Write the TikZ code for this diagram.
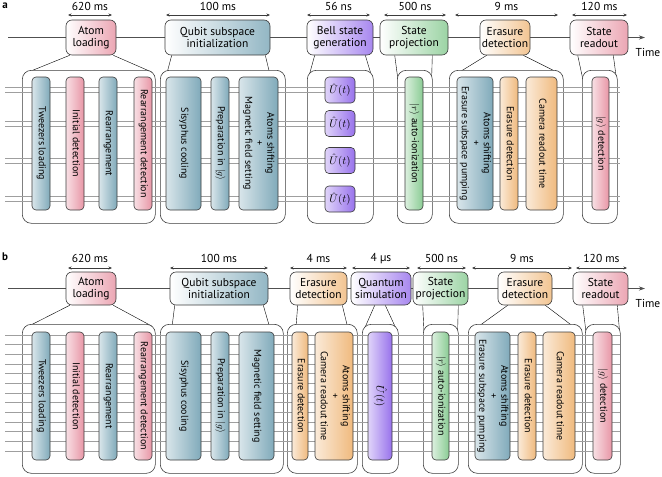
\documentclass[tikz,border=0pt]{standalone}
\usepackage{fontspec}
\setmainfont{PT Sans}
\usepackage{amsmath}
\usepackage{graphicx}
\usetikzlibrary{arrows.meta,backgrounds}

\definecolor{qblue}{RGB}{128,170,186}
\definecolor{qpink}{RGB}{232,150,166}
\definecolor{qpurple}{RGB}{152,114,236}
\definecolor{qgreen}{RGB}{138,204,148}
\definecolor{qorange}{RGB}{240,186,126}
\definecolor{edge}{RGB}{60,60,60}

\newcommand{\vtext}[1]{\rotatebox{-90}{\begin{tabular}{@{}c@{}}#1\end{tabular}}}

\tikzset{
  stage/.style={draw=edge, line width=0.6pt, rounded corners=6pt, align=center,
    inner sep=1pt, left color=white, right color=#1!85,
    font=\fontsize{11.5}{12.5}\selectfont},
  group/.style={draw=edge, line width=0.6pt, rounded corners=9pt, fill=white,
    anchor=north west, inner sep=0pt},
  sub/.style={draw=edge, line width=0.6pt, rounded corners=4pt, inner sep=0pt,
    left color=#1!30!white, right color=#1, font=\fontsize{10}{11}\selectfont},
  hA/.style={minimum height=133},
  hB/.style={minimum height=128},
  wire/.style={draw=gray!75, line width=0.45pt},
  tline/.style={-{Stealth[length=6pt,width=4pt]}, draw=edge!90, line width=0.8pt},
  dur/.style={{Stealth[length=3.5pt,width=3pt]}-{Stealth[length=3.5pt,width=3pt]},
    draw=edge, line width=0.6pt},
}

\begin{document}
\begin{tikzpicture}[x=1pt, y=-1pt, font=\fontsize{11.5}{13}\selectfont]
  \useasboundingbox (0,0) rectangle (662,477);

  % ---- a ----
  \node[font=\bfseries\fontsize{11}{13}\selectfont] at (5,5.5) (lblA) {a};
  \coordinate (tA0) at (8,37.5);
  \coordinate (tA1) at (645,37.5);
  \node at (648,52) (timeA) {Time};
  \foreach \xa/\xb/\lbl in {68/112/620 ms, 166/270/100 ms, 307/370/56 ns,
      384/446/500 ns, 455/558/9 ms, 572/627/120 ms}{
    \draw[dur] (\xa,15) -- (\xb,15);
    \node at ({(\xa+\xb)/2},6.5) (dA\xa) {\lbl};
  }

  \node[stage=qpink, minimum width=50, minimum height=35] at (91,37.5) (alA) {Atom\\loading};
  \node[stage=qblue, minimum width=105, minimum height=35] at (217.5,37.5) (qsA) {Qubit subspace\\initialization};
  \node[stage=qpurple, minimum width=66, minimum height=35] at (340,37.5) (bsA) {Bell state\\generation};
  \node[stage=qgreen, minimum width=68, minimum height=35] at (414,37.5) (spA) {State\\projection};
  \node[stage=qorange, minimum width=50, minimum height=35] at (505,37.5) (edA) {Erasure\\detection};
  \node[stage=qpink, minimum width=58, minimum height=35] at (599,37.5) (srA) {State\\readout};

  \node[group, minimum width=133, minimum height=153] at (22,70) (g1A) {};
  \node[group, minimum width=125, minimum height=153] at (160,70) (g2A) {};
  \node[group, minimum width=66, minimum height=153] at (307,70) (g3A) {};
  \node[group, minimum width=35, minimum height=153] at (397,70) (g4A) {};
  \node[group, minimum width=114, minimum height=153] at (449,70) (g5A) {};
  \node[group, minimum width=35, minimum height=153] at (582,70) (g6A) {};

  \begin{scope}[on background layer]
    \draw[tline] (tA0) -- (tA1);
    \draw ([xshift=4]alA.south west) -- ([xshift=4,yshift=-3]g1A.north west);
    \draw ([xshift=-3]alA.south east) -- ([xshift=-4,yshift=-2]g1A.north east);
    \draw ([xshift=7]qsA.south west) -- ([xshift=7,yshift=-3]g2A.north west);
    \draw ([xshift=-5]qsA.south east) -- ([xshift=-16,yshift=-3]g2A.north east);
    \draw ([xshift=8]bsA.south west) -- ([xshift=2,yshift=-6]g3A.north west);
    \draw ([xshift=-8]bsA.south east) -- ([xshift=-2,yshift=-6]g3A.north east);
    \draw ([xshift=15]spA.south west) -- ([xshift=1,yshift=-10]g4A.north west);
    \draw ([xshift=-16]spA.south east) -- ([xshift=-1,yshift=-10]g4A.north east);
    \draw ([xshift=7]edA.south west) -- ([xshift=9,yshift=-3]g5A.north west);
    \draw ([xshift=-7]edA.south east) -- ([xshift=-5,yshift=-3]g5A.north east);
    \draw ([xshift=8]srA.south west) -- ([xshift=1,yshift=-10]g6A.north west);
    \draw ([xshift=-15]srA.south east) -- ([xshift=-1,yshift=-10]g6A.north east);
  \end{scope}

  \foreach \c in {90,123.5,160.5,199}{
    \draw[wire] (5,{\c-2.3}) -- (620,{\c-2.3});
    \draw[wire] (5,{\c+2.3}) -- (620,{\c+2.3});
  }

  \node[sub=qblue, hA, minimum width=18] at (41,143.5) (twA) {\vtext{Tweezers loading}};
  \node[sub=qpink, hA, minimum width=18] at (75,143.5) (idA) {\vtext{Initial detection}};
  \node[sub=qblue, hA, minimum width=18] at (108,143.5) (reA) {\vtext{Rearrangement}};
  \node[sub=qpink, hA, minimum width=18] at (143,143.5) (rdA) {\vtext{Rearrangement detection}};
  \node[sub=qblue, hA, minimum width=35] at (183.5,143.5) (syA) {\vtext{Sisyphus cooling}};
  \node[sub=qblue, hA, minimum width=18] at (220,143.5) (pgA) {\vtext{Preparation in $|g\rangle$}};
  \node[sub=qblue, hA, minimum width=39] at (258.5,143.5) (mfA) {\vtext{Atoms shifting\\+\\Magnetic field setting}};
  \node[sub=qpurple, minimum width=30, minimum height=26, font=\fontsize{11}{12}\selectfont] at (340,90) (u1A) {$\hat{U}(t)$};
  \node[sub=qpurple, minimum width=30, minimum height=26, font=\fontsize{11}{12}\selectfont] at (340,123.5) (u2A) {$\hat{U}(t)$};
  \node[sub=qpurple, minimum width=30, minimum height=26, font=\fontsize{11}{12}\selectfont] at (340,160.5) (u3A) {$\hat{U}(t)$};
  \node[sub=qpurple, minimum width=30, minimum height=26, font=\fontsize{11}{12}\selectfont] at (340,199) (u4A) {$\hat{U}(t)$};
  \node[sub=qgreen, hA, minimum width=18] at (414,143.5) (riA) {\vtext{$|r\rangle$ auto-ionization}};
  \node[sub=qblue, hA, minimum width=36] at (475,143.5) (epA) {\vtext{Atoms shifting\\+\\Erasure subspace pumping}};
  \node[sub=qorange, hA, minimum width=18] at (509,143.5) (e2A) {\vtext{Erasure detection}};
  \node[sub=qorange, hA, minimum width=31] at (541.5,143.5) (crA) {\vtext{Camera readout time}};
  \node[sub=qpink, hA, minimum width=17] at (600.5,143.5) (gdA) {\vtext{$|g\rangle$ detection}};

  % ---- b ----
  \node[font=\bfseries\fontsize{11}{13}\selectfont] at (5,257) (lblB) {b};
  \coordinate (tB0) at (8,288.5);
  \coordinate (tB1) at (645,288.5);
  \node at (648,303) (timeB) {Time};
  \foreach \xa/\xb/\lbl in {68/112/620 ms, 170/268/100 ms, 290/347/4 ms,
      352/410/4 µs, 417/466/500 ns, 472/572/9 ms, 576/627/120 ms}{
    \draw[dur] (\xa,268) -- (\xb,268);
    \node at ({(\xa+\xb)/2},258.5) (dB\xa) {\lbl};
  }

  \node[stage=qpink, minimum width=50, minimum height=33] at (91,288.5) (alB) {Atom\\loading};
  \node[stage=qblue, minimum width=98, minimum height=33] at (219,288.5) (qsB) {Qubit subspace\\initialization};
  \node[stage=qorange, minimum width=57, minimum height=33] at (318.5,288.5) (e1B) {Erasure\\detection};
  \node[stage=qpurple, minimum width=60, minimum height=33] at (381,288.5) (qmB) {Quantum\\simulation};
  \node[stage=qgreen, minimum width=55, minimum height=33] at (440.5,288.5) (spB) {State\\projection};
  \node[stage=qorange, minimum width=54, minimum height=33] at (525,288.5) (e2B) {Erasure\\detection};
  \node[stage=qpink, minimum width=55, minimum height=33] at (600.5,288.5) (srB) {State\\readout};

  \node[group, minimum width=133, minimum height=149] at (22,324) (g1B) {};
  \node[group, minimum width=123, minimum height=149] at (160,324) (g2B) {};
  \node[group, minimum width=70, minimum height=149] at (287,324) (g3B) {};
  \node[group, minimum width=36, minimum height=149] at (362,324) (g4B) {};
  \node[group, minimum width=35, minimum height=149] at (423,324) (g5B) {};
  \node[group, minimum width=114, minimum height=149] at (468,324) (g6B) {};
  \node[group, minimum width=35, minimum height=149] at (585,324) (g7B) {};

  \begin{scope}[on background layer]
    \draw[tline] (tB0) -- (tB1);
    \draw ([xshift=4]alB.south west) -- ([xshift=5,yshift=-3]g1B.north west);
    \draw ([xshift=-3]alB.south east) -- ([xshift=-4,yshift=-2]g1B.north east);
    \draw ([xshift=5]qsB.south west) -- ([xshift=12,yshift=-3]g2B.north west);
    \draw ([xshift=-5]qsB.south east) -- ([xshift=-14,yshift=-3]g2B.north east);
    \draw ([xshift=8]e1B.south west) -- ([xshift=9,yshift=-3]g3B.north west);
    \draw ([xshift=-5]e1B.south east) -- ([xshift=-10,yshift=-3]g3B.north east);
    \draw ([xshift=24]qmB.south west) -- ([xshift=1,yshift=-8]g4B.north west);
    \draw ([xshift=-26]qmB.south east) -- ([xshift=-1,yshift=-8]g4B.north east);
    \draw ([xshift=10]spB.south west) -- ([xshift=1,yshift=-8]g5B.north west);
    \draw ([xshift=-10]spB.south east) -- ([xshift=-1,yshift=-8]g5B.north east);
    \draw ([xshift=10]e2B.south west) -- ([xshift=11,yshift=-2]g6B.north west);
    \draw ([xshift=-7]e2B.south east) -- ([xshift=-10,yshift=-2]g6B.north east);
    \draw ([xshift=10]srB.south west) -- ([xshift=1,yshift=-8]g7B.north west);
    \draw ([xshift=-11]srB.south east) -- ([xshift=-1,yshift=-8]g7B.north east);
  \end{scope}

  \foreach \k in {0,...,12}
    \draw[wire] (5,{335+9.667*\k}) -- (620,{335+9.667*\k});

  \node[sub=qblue, hB, minimum width=18] at (41,396) (twB) {\vtext{Tweezers loading}};
  \node[sub=qpink, hB, minimum width=18] at (75,396) (idB) {\vtext{Initial detection}};
  \node[sub=qblue, hB, minimum width=18] at (108,396) (reB) {\vtext{Rearrangement}};
  \node[sub=qpink, hB, minimum width=18] at (143,396) (rdB) {\vtext{Rearrangement detection}};
  \node[sub=qblue, hB, minimum width=35] at (183.5,396) (syB) {\vtext{Sisyphus cooling}};
  \node[sub=qblue, hB, minimum width=18] at (220,396) (pgB) {\vtext{Preparation in $|g\rangle$}};
  \node[sub=qblue, hB, minimum width=35] at (256.5,396) (mfB) {\vtext{Magnetic field setting}};
  \node[sub=qorange, hB, minimum width=16] at (300,396) (e1dB) {\vtext{Erasure detection}};
  \node[sub=qorange, hB, minimum width=38] at (334,396) (crB) {\vtext{Atoms shifting\\+\\Camera readout time}};
  \node[sub=qpurple, hB, minimum width=24, font=\fontsize{11}{12}\selectfont] at (380,396) (uB) {\vtext{$\hat{U}(t)$}};
  \node[sub=qgreen, hB, minimum width=17] at (440.5,396) (riB) {\vtext{$|r\rangle$ auto-ionization}};
  \node[sub=qblue, hB, minimum width=35] at (492.5,396) (epB) {\vtext{Atoms shifting\\+\\Erasure subspace pumping}};
  \node[sub=qorange, hB, minimum width=18] at (527,396) (e2dB) {\vtext{Erasure detection}};
  \node[sub=qorange, hB, minimum width=32] at (559,396) (cr2B) {\vtext{Camera readout time}};
  \node[sub=qpink, hB, minimum width=19] at (602.5,396) (gdB) {\vtext{$|g\rangle$ detection}};
\end{tikzpicture}
\end{document}
